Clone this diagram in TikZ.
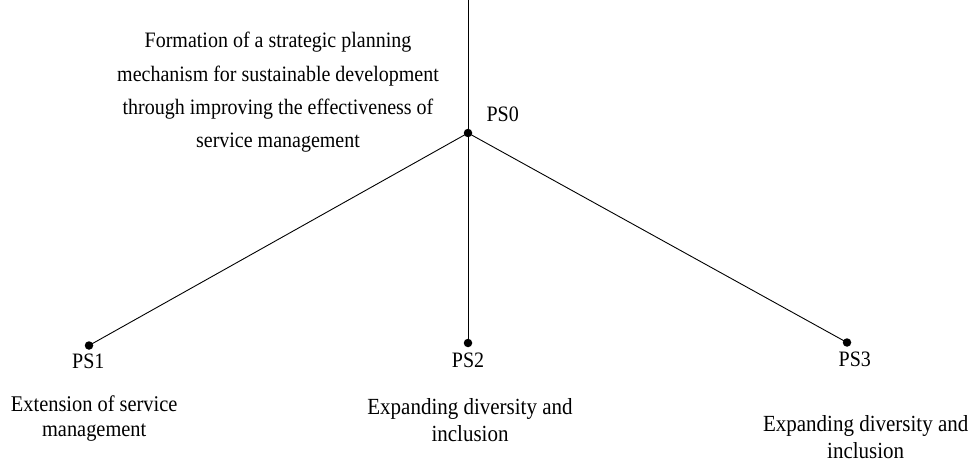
\documentclass[tikz,border=0pt]{standalone}
\usepackage{fontspec}
\setmainfont{Liberation Serif}
\usetikzlibrary{calc}
\usetikzlibrary{positioning}

\begin{document}
\begin{tikzpicture}[x=1pt, y=1pt, dot/.style={circle, fill=black, inner sep=0pt, minimum size=8.5pt}, ps/.style={anchor=base, yscale=1.1, font=\fontsize{20}{24}\selectfont}]
        \useasboundingbox (0,0) rectangle (969,464);

        %% Tree points PS0 .. PS3
        \node[dot] (0) at (468,331) {};
        \node[dot] (1) at (89,118.5) {};
        \node[dot] (2) at (468,121) {};
        \node[dot] (3) at (847,121.5) {};
        \coordinate (top) at (468,464);

        \draw[-, line width=0.9pt] (top) -- (0.center);
        \draw[-, line width=0.9pt] (0.center) -- (1.center);
        \draw[-, line width=0.9pt] (0.center) -- (2.center);
        \draw[-, line width=0.9pt] (0.center) -- (3.center);

        %% Labels
        \node[ps] (l0) at ($(0)+(34.7,11.3)$) {PS0};
        \node[ps] (l1) at ($(1)+(-0.7,-23)$) {PS1};
        \node[ps] (l2) at ($(2)+(0,-24)$) {PS2};
        \node[ps] (l3) at ($(3)+(7.8,-24)$) {PS3};

        %% Goal
        \node[anchor=base, yscale=1.1, font=\fontsize{20}{30.3}\selectfont] (g0) at (278,416.3) {\begin{tabular}[t]{c}
             Formation of a strategic planning \\
             mechanism for sustainable development \\
             through improving the effectiveness of \\
             service management
        \end{tabular}};

        %% Directions
        \node[anchor=base, yscale=1.1, font=\fontsize{20.4}{23.6}\selectfont] (g1) at (94.2,53) {\begin{tabular}[t]{c}
             Extension of service \\
             management
        \end{tabular}};
        \node[anchor=base, yscale=1.1, font=\fontsize{21}{24.9}\selectfont] (g2) at (470,49.7) {\begin{tabular}[t]{c}
             Expanding diversity and \\
             inclusion
        \end{tabular}};
        \node[anchor=base, yscale=1.1, font=\fontsize{21}{24.8}\selectfont] (g3) at (865.7,32.3) {\begin{tabular}[t]{c}
             Expanding diversity and \\
             inclusion
        \end{tabular}};
    \end{tikzpicture}
\end{document}
